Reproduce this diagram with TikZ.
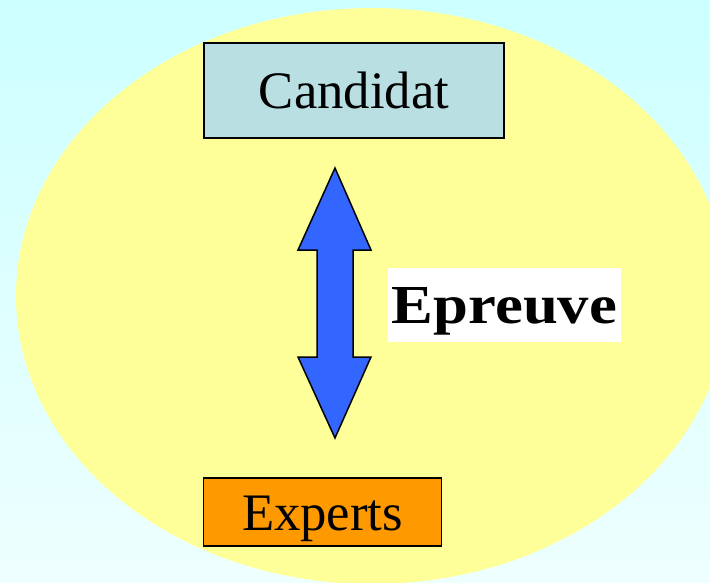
\documentclass[tikz,border=0pt]{standalone}
\usepackage{fontspec}
\setmainfont{Liberation Serif}
\newfontfamily\timesfont{Liberation Serif}
\usepackage{graphicx}

\definecolor{bgtop}{HTML}{CCFFFF}
\definecolor{bgbottom}{HTML}{EEFFFF}
\definecolor{ovalyellow}{HTML}{FFFF99}
\definecolor{candfill}{HTML}{B9DFE3}
\definecolor{expfill}{HTML}{FF9900}
\definecolor{arrowblue}{HTML}{3366FF}

\tikzset{
  box/.style={draw=black, line width=1.5pt, inner sep=0pt, align=center, anchor=base,
    font=\timesfont\fontsize{52.7}{60}\selectfont},
}

\begin{document}
\begin{tikzpicture}[x=1pt, y=-1pt]
\shade[top color=bgtop, bottom color=bgbottom] (0, 0) rectangle (710, 582);
\useasboundingbox (0, 0) rectangle (710, 582);
\fill[ovalyellow] (372, 296) ellipse [x radius=356, y radius=288];
% boxes
\node[box, fill=candfill, minimum width=300, text height=65pt, text depth=30pt] (candidat) at (354, 108) {Candidat};
\node[box, fill=expfill, minimum width=238, text height=52pt, text depth=16pt] (experts) at (322.5, 530) {Experts};
% double arrow
\coordinate (tip) at (335, 168);
\coordinate (tail) at (335, 438);
\draw[fill=arrowblue, line width=1.5pt, line join=miter]
  (tip) -- ++(36, 82) -- ++(-18, 0) |- ([xshift=18pt, yshift=81pt]tail)
  -- ++(18, 0) -- (tail) -- ++(-37, -81) -- ++(19, 0)
  |- ([xshift=-18pt, yshift=-82pt]tip) -- ++(-19, 0) -- cycle;
\node[fill=white, inner sep=0pt, anchor=base, minimum width=233, text height=55pt, text depth=19pt,
  font=\timesfont\fontsize{55}{60}\selectfont\bfseries] (epreuve) at (504.5, 323) {\scalebox{1.14}[1]{Epreuve}};
\end{tikzpicture}
\end{document}
